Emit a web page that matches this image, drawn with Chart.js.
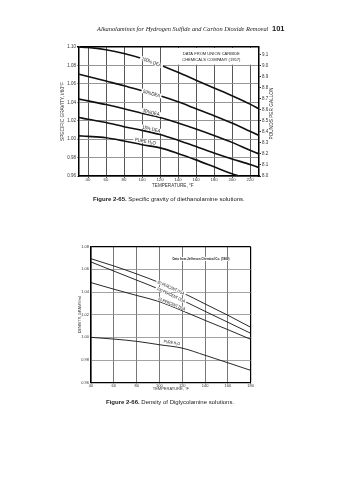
<!DOCTYPE html>
<html><head><meta charset="utf-8">
<script src="https://cdn.jsdelivr.net/npm/chart.js@4.4.0/dist/chart.umd.min.js"></script>
<style>
html,body{margin:0;padding:0;background:#fff;width:338px;height:480px;overflow:hidden;}
canvas{position:absolute;left:0;}
#c1{top:0;}
#c2{top:200px;}
.t{position:absolute;white-space:nowrap;color:#1a1a1a;line-height:1;z-index:5;font-family:'Liberation Sans',Arial,sans-serif;}
</style></head><body>
<canvas id="c1" width="338" height="200"></canvas>
<canvas id="c2" width="338" height="210"></canvas>
<div class="t" style="left:97px;top:25.5px;font-family:'Liberation Serif',serif;font-style:italic;font-size:6.4px;">Alkanolamines for Hydrogen Sulfide and Carbon Dioxide Removal</div>
<div class="t" style="left:272px;top:24.5px;font-size:7.5px;font-weight:bold;">101</div>
<div class="t" style="left:93px;top:196px;font-size:6px;"><b>Figure 2-65.</b> Specific gravity of diethanolamine solutions.</div>
<div class="t" style="left:106px;top:398.5px;font-size:6px;"><b>Figure 2-66.</b> Density of Diglycolamine solutions.</div>
<script>
const FONT = "'Liberation Sans', Arial, sans-serif";

// ---------- Figure 2-65 data (specific gravity of DEA solutions) ----------
const temps1      = [30, 40, 60, 80, 100, 120, 140, 160, 180, 200, 220, 230];
const dea100      = [1.100, 1.0995, 1.097, 1.093, 1.0875, 1.0805, 1.0725, 1.064, 1.0555, 1.047, 1.038, 1.033];
const dea50       = [1.0705, 1.068, 1.063, 1.058, 1.0525, 1.047, 1.0405, 1.033, 1.0255, 1.0175, 1.0085, 1.004];
const dea30       = [1.0435, 1.0415, 1.0375, 1.033, 1.028, 1.0235, 1.0175, 1.011, 1.004, 0.9965, 0.988, 0.984];
const dea15       = [1.0235, 1.0215, 1.018, 1.0135, 1.0095, 1.005, 0.9988, 0.992, 0.985, 0.9785, 0.9725, 0.969];
const tempsWater1 = [30, 40, 60, 80, 100, 120, 140, 160, 180, 200, 208];
const water1      = [1.0035, 1.003, 1.0015, 0.998, 0.994, 0.9905, 0.9845, 0.9775, 0.970, 0.9625, 0.960];
const xTicks1  = [40, 60, 80, 100, 120, 140, 160, 180, 200, 220];
const sgTicks1 = [0.96, 0.98, 1.00, 1.02, 1.04, 1.06, 1.08, 1.10];
const lbTicks1 = [8.0, 8.1, 8.2, 8.3, 8.4, 8.5, 8.6, 8.7, 8.8, 8.9, 9.0, 9.1];
const names1   = ['100% DEA', '50%DEA', '30%DEA', '15% DEA', 'PURE H\u2082O'];
const note1    = ['DATA FROM UNION CARBIDE', 'CHEMICALS COMPANY (1957)'];

// ---------- Figure 2-66 data (density of DGA solutions) ----------
const temps2  = [40, 60, 80, 100, 120, 140, 160, 180];
const dga80   = [1.0694, 1.063, 1.056, 1.0483, 1.0395, 1.0295, 1.0195, 1.0089];
const dga100  = [1.0665, 1.0585, 1.0505, 1.0424, 1.0328, 1.023, 1.0133, 1.0036];
const dga60   = [1.0483, 1.0425, 1.037, 1.0315, 1.0235, 1.015, 1.0068, 0.9983];
const water2  = [1.0000, 0.9985, 0.9965, 0.9935, 0.9905, 0.9842, 0.9776, 0.9709];
const xTicks2 = [40, 60, 80, 100, 120, 140, 160, 180];
const dTicks2 = [0.96, 0.98, 1.00, 1.02, 1.04, 1.06, 1.08];
const names2  = ['80 PERCENT DGA', '100 PERCENT DGA', '60 PERCENT DGA', 'PURE H\u2082O'];
const note2   = 'Data from Jefferson Chemical Co. (1969)';

const pts = (xs, ys) => xs.map((x, i) => ({x, y: ys[i]}));

function interp(xs, ys, x) {
  for (let i = 0; i < xs.length - 1; i++) {
    if (x >= xs[i] && x <= xs[i + 1]) {
      const t = (x - xs[i]) / (xs[i + 1] - xs[i]);
      return ys[i] + t * (ys[i + 1] - ys[i]);
    }
  }
  return ys[ys.length - 1];
}

const curveLabels = {
  id: 'curveLabels',
  afterDatasetsDraw(chart, args, o) {
    const {ctx} = chart; const sx = chart.scales.x, sy = chart.scales.y;
    (o.items || []).forEach(it => {
      const ds = chart.data.datasets[it.ds];
      const X = ds.data.map(p => p.x), Y = ds.data.map(p => p.y);
      const x0 = sx.getPixelForValue(it.at), y0 = sy.getPixelForValue(interp(X, Y, it.at));
      const xa = sx.getPixelForValue(it.at - 8), ya = sy.getPixelForValue(interp(X, Y, it.at - 8));
      const xb = sx.getPixelForValue(it.at + 8), yb = sy.getPixelForValue(interp(X, Y, it.at + 8));
      const ang = Math.atan2(yb - ya, xb - xa);
      ctx.save();
      ctx.translate(x0, y0); ctx.rotate(ang); ctx.translate(0, it.off || 0);
      ctx.scale(o.sx, 1);
      ctx.font = o.font;
      const w = ctx.measureText(ds.label).width;
      if (o.bg) { ctx.fillStyle = '#fff'; ctx.fillRect(-w / 2 - 2, -o.h / 2, w + 4, o.h); }
      ctx.fillStyle = o.color; ctx.textAlign = 'center'; ctx.textBaseline = 'middle';
      ctx.fillText(ds.label, 0, 0.3);
      ctx.restore();
    });
  }
};

const notes = {
  id: 'notes',
  beforeDatasetsDraw(chart, args, o) {
    const {ctx, chartArea: a} = chart; const sx = chart.scales.x, sy = chart.scales.y;
    ctx.save();
    if (o.box) {
      const x1 = sx.getPixelForValue(o.box[0]) - 1, y2 = sy.getPixelForValue(o.box[1]) - 0.8;
      ctx.fillStyle = '#fff'; ctx.fillRect(x1, a.top + 1, a.right - 1 - x1, y2 - a.top - 1);
    }
    ctx.font = o.font; ctx.textAlign = 'center'; ctx.textBaseline = 'middle';
    o.lines.forEach((ln, i) => {
      const x = sx.getPixelForValue(o.at[0]), y = sy.getPixelForValue(o.at[1]) + i * o.lh;
      ctx.save(); ctx.translate(x, y); ctx.scale(o.sx, 1);
      const w = ctx.measureText(ln).width;
      if (o.bg) { ctx.fillStyle = '#fff'; ctx.fillRect(-w / 2 - 1, -o.lh / 2, w + 2, o.lh); }
      ctx.fillStyle = o.color; ctx.fillText(ln, 0, 0);
      ctx.restore();
    });
    ctx.restore();
  },
  afterDraw(chart, args, o) {
    if (!o.rightTitle) return;
    const {ctx, chartArea: a} = chart;
    ctx.save();
    ctx.translate(a.right + o.rightTitle.dx, (a.top + a.bottom) / 2 + o.rightTitle.dy);
    ctx.rotate(-Math.PI / 2); ctx.scale(o.sx, 1);
    ctx.font = o.rightTitle.font; ctx.fillStyle = '#222'; ctx.textAlign = 'center'; ctx.textBaseline = 'middle';
    ctx.fillText(o.rightTitle.text, 0, 0);
    ctx.restore();
  }
};

const fixTicks = arr => s => { s.ticks = arr.map(v => ({value: v})); };
const lineDs = (label, data, w) => ({label, data, borderColor: '#111', borderWidth: w, pointRadius: 0,
  tension: 0.3, cubicInterpolationMode: 'monotone', fill: false});

// ----- Chart 1 -----
new Chart(document.getElementById('c1'), {
  type: 'line',
  data: {datasets: [
    lineDs(names1[0], pts(temps1, dea100), 1.6),
    lineDs(names1[1], pts(temps1, dea50), 1.6),
    lineDs(names1[2], pts(temps1, dea30), 1.6),
    lineDs(names1[3], pts(temps1, dea15), 1.6),
    lineDs(names1[4], pts(tempsWater1, water1), 1.6)
  ]},
  options: {
    responsive: false, animation: false, devicePixelRatio: 1,
    layout: {padding: {top: 47, left: 0, right: 0, bottom: 0}},
    plugins: {
      legend: {display: false}, tooltip: {enabled: false},
      curveLabels: {sx: 0.85, font: '5px ' + FONT, color: '#111', bg: true, h: 4.5, items: [
        {ds: 0, at: 110.6, off: 0}, {ds: 1, at: 110.6, off: 0}, {ds: 2, at: 109.5, off: -3},
        {ds: 3, at: 109.5, off: -3.5}, {ds: 4, at: 103, off: -4}]},
      notes: {box: [140, 1.08], at: [177, 1.0928], lines: note1, lh: 6.5, sx: 0.95, font: '4.3px ' + FONT, color: '#222',
        rightTitle: {text: 'POUNDS PER GALLON', dx: 13, dy: 2, font: '5px ' + FONT}}
    },
    scales: {
      x: {type: 'linear', min: 30, max: 230, afterBuildTicks: fixTicks(xTicks1), afterFit: s => { s.height = 24; },
        grid: {color: '#444', lineWidth: 0.9, tickLength: 2},
        border: {color: '#000', width: 1.5},
        ticks: {font: {size: 4.3, family: FONT, lineHeight: 1}, color: '#333', padding: 0, maxRotation: 0, autoSkip: false},
        title: {display: true, text: '      TEMPERATURE, \u00B0F', color: '#333', font: {size: 4.6, family: FONT, lineHeight: 1.2}, padding: {top: 0, bottom: 11.5}}},
      y: {type: 'linear', position: 'left', min: 0.96, max: 1.10, afterBuildTicks: fixTicks(sgTicks1), afterFit: s => { s.width = 79; },
        grid: {color: c => c.tick && c.tick.value >= 1.099 ? '#000' : '#8a8a8a', lineWidth: c => c.tick && c.tick.value >= 1.099 ? 1.5 : 0.9, tickLength: 2},
        border: {color: '#000', width: 1.5},
        ticks: {font: {size: 4.5, family: FONT}, color: '#333', padding: 1, callback: v => v.toFixed(2)},
        title: {display: true, text: 'SPECIFIC GRAVITY, t/60\u00B0F', color: '#333', font: {size: 4.8, family: FONT, lineHeight: 1.2}, padding: {top: 59.5, bottom: 0}}},
      y2: {type: 'linear', position: 'right', min: 8.0, max: 9.167, afterBuildTicks: fixTicks(lbTicks1), afterFit: s => { s.width = 79; },
        grid: {drawOnChartArea: false, color: '#000', tickLength: 2, lineWidth: 0.8},
        border: {color: '#000', width: 1.5},
        ticks: {font: {size: 4.5, family: FONT}, color: '#333', padding: 1, callback: v => v.toFixed(1)}}
    }
  },
  plugins: [curveLabels, notes]
});

// ----- Chart 2 -----
new Chart(document.getElementById('c2'), {
  type: 'line',
  data: {datasets: [
    lineDs(names2[0], pts(temps2, dga80), 0.9),
    lineDs(names2[1], pts(temps2, dga100), 0.9),
    lineDs(names2[2], pts(temps2, dga60), 0.9),
    lineDs(names2[3], pts(temps2, water2), 0.9)
  ]},
  options: {
    responsive: false, animation: false, devicePixelRatio: 1,
    layout: {padding: {top: 46.7, left: 0, right: 87.3, bottom: 0}},
    plugins: {
      legend: {display: false}, tooltip: {enabled: false},
      curveLabels: {sx: 0.78, font: '4.3px ' + FONT, color: '#111', bg: true, h: 4, items: [
        {ds: 0, at: 110.2, off: 0}, {ds: 1, at: 110.2, off: 0}, {ds: 2, at: 110.2, off: -2.5}, {ds: 3, at: 110.4, off: -4}]},
      notes: {at: [136.4, 1.0692], lines: [note2], lh: 4, sx: 0.9, bg: true, font: 'bold 3.3px ' + FONT, color: '#222'}
    },
    scales: {
      x: {type: 'linear', min: 40, max: 180, afterBuildTicks: fixTicks(xTicks2), afterFit: s => { s.height = 27.3; },
        grid: {color: c => c.tick && (c.tick.value === 180) ? '#000' : '#555', lineWidth: c => c.tick && c.tick.value === 180 ? 1.2 : 0.8, tickLength: 1},
        border: {color: '#000', width: 1.2},
        ticks: {font: {size: 4, family: FONT, lineHeight: 1}, color: '#333', padding: 0, maxRotation: 0, autoSkip: false},
        title: {display: true, text: 'TEMPERATURE, \u00B0F', color: '#333', font: {size: 4, family: FONT, lineHeight: 1.2}, padding: {top: 0, bottom: 18.3}}},
      y: {type: 'linear', position: 'left', min: 0.96, max: 1.08, afterBuildTicks: fixTicks(dTicks2), afterFit: s => { s.width = 91; },
        grid: {color: c => c.tick && c.tick.value >= 1.079 ? '#000' : '#8a8a8a', lineWidth: c => c.tick && c.tick.value >= 1.079 ? 1.2 : 0.8, tickLength: 1},
        border: {color: '#000', width: 1.2},
        ticks: {font: {size: 4, family: FONT}, color: '#333', padding: 1, callback: v => v.toFixed(2)},
        title: {display: true, text: 'DENSITY, GRAMS/ml', color: '#333', font: {size: 3.8, family: FONT, lineHeight: 1.2}, padding: {top: 77.8, bottom: 0}}}
    }
  },
  plugins: [curveLabels, notes]
});
</script>
</body></html>
